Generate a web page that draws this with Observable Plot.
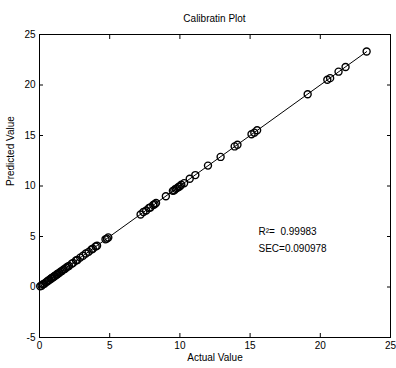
<!DOCTYPE html>
<html>
<head>
<meta charset="utf-8">
<script src="https://cdn.jsdelivr.net/npm/d3@7"></script>
<script src="https://cdn.jsdelivr.net/npm/@observablehq/plot@0.6"></script>
<style>
  body { margin: 0; background: #fff; font-family: Arial, "Liberation Sans", sans-serif; }
  #title { width: 351px; padding-left: 39px; padding-right: 6px; height: 14px; padding-top: 14px;
           line-height: 10px; font-size: 10px; text-align: center; color: #000; }
</style>
</head>
<body>
<div id="title">Calibratin Plot</div>
<div id="chart"></div>
<script>
const actual = [0.05,0.15,0.25,0.35,0.45,0.55,0.6,0.7,0.8,0.85,0.9,1.0,1.05,1.1,1.2,1.25,1.3,1.4,1.5,1.6,1.7,1.8,1.9,2.0,2.1,2.3,2.4,2.6,2.7,2.9,3.1,3.3,3.5,3.7,3.8,4.0,4.1,4.7,4.8,4.9,7.2,7.4,7.6,7.8,7.9,8.1,8.2,8.3,9.0,9.5,9.6,9.7,9.8,9.9,10.0,10.1,10.3,10.7,11.1,12.0,12.9,13.9,14.1,15.1,15.3,15.5,19.1,20.5,20.7,21.3,21.8,23.3];
const predicted = [0.07,0.13,0.27,0.33,0.46,0.53,0.62,0.69,0.82,0.84,0.92,0.98,1.07,1.09,1.22,1.24,1.31,1.38,1.52,1.59,1.72,1.79,1.91,2.02,2.08,2.31,2.39,2.62,2.68,2.91,3.09,3.32,3.48,3.72,3.79,4.01,4.09,4.72,4.79,4.91,7.18,7.42,7.58,7.82,7.88,8.12,8.19,8.31,8.98,9.52,9.58,9.72,9.79,9.91,9.98,10.12,10.28,10.72,11.08,12.02,12.88,13.92,14.08,15.12,15.28,15.52,19.08,20.52,20.68,21.32,21.78,23.32];
const fitX = [0, 23.3];
const fitY = [0.0, 23.3];
const xTicks = [0, 5, 10, 15, 20, 25];
const yTicks = [-5, 0, 5, 10, 15, 20, 25];
const annX = 15.6;
const annotations = [
  {y: 5.5, label: "R\u00b2=  0.99983"},
  {y: 3.8, label: "SEC=0.090978"}
];

const points = actual.map((a, i) => ({a, p: predicted[i]}));
const fit = fitX.map((x, i) => ({x, y: fitY[i]}));
const blank = () => "";

const chart = Plot.plot({
  width: 396,
  height: 340,
  marginTop: 6,
  marginLeft: 39,
  marginRight: 6,
  marginBottom: 31,
  style: {fontFamily: "Arial, 'Liberation Sans', sans-serif", fontSize: "10px", color: "#000", background: "#fff"},
  x: {domain: [0, 25]},
  y: {domain: [-5, 25]},
  marks: [
    Plot.frame({stroke: "#000", strokeWidth: 1}),
    // labels
    Plot.axisX({ticks: xTicks, tickSize: 0, tickPadding: 4, label: null, tickFormat: d => d}),
    Plot.axisY({ticks: yTicks, tickSize: 0, tickPadding: 4, label: null, tickFormat: d => d}),
    // inward ticks on all four sides
    Plot.axisX({ticks: xTicks, tickSize: 4, dy: -4, tickFormat: blank, label: null}),
    Plot.axisX({ticks: xTicks, anchor: "top", tickSize: 4, dy: 4, tickFormat: blank, label: null}),
    Plot.axisY({ticks: yTicks, tickSize: 4, dx: 4, tickFormat: blank, label: null}),
    Plot.axisY({ticks: yTicks, anchor: "right", tickSize: 4, dx: -4, tickFormat: blank, label: null}),
    Plot.text(["Actual Value"], {frameAnchor: "bottom", dy: 23, text: d => d, fontSize: 10, fill: "#000"}),
    Plot.text(["Predicted Value"], {frameAnchor: "left", dx: -29, rotate: -90, text: d => d, fontSize: 10, fill: "#000"}),
    Plot.line(fit, {x: "x", y: "y", stroke: "#000", strokeWidth: 1}),
    Plot.dot(points, {x: "a", y: "p", r: 3.5, stroke: "#000", strokeWidth: 1.4, fill: "none"}),
    Plot.text(annotations, {x: annX, y: "y", text: "label", textAnchor: "start", fontSize: 10, fill: "#000"})
  ]
});
document.getElementById("chart").appendChild(chart);
</script>
</body>
</html>
